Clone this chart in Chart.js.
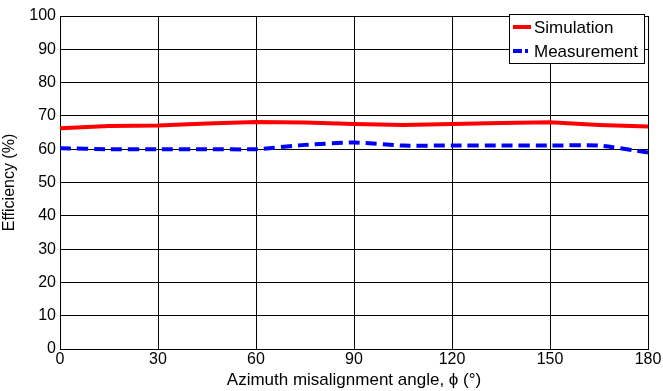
<!DOCTYPE html>
<html>
<head>
<meta charset="utf-8">
<script src="https://cdn.jsdelivr.net/npm/chart.js@4"></script>
<style>
  body { margin: 0; background: #fff; }
  #wrap { width: 663px; height: 391px; }
</style>
</head>
<body>
<div id="wrap"><canvas id="effChart" width="663" height="391"></canvas></div>
<script>
// data
const angles = [0, 15, 30, 45, 60, 75, 90, 105, 120, 135, 150, 165, 180];
const simulation = [66.3, 67.0, 67.1, 67.7, 68.2, 68.0, 67.6, 67.3, 67.6, 67.9, 68.1, 67.3, 66.8];
const measurement = [60.3, 60.0, 60.0, 60.0, 60.0, 61.3, 62.0, 61.1, 61.1, 61.1, 61.1, 61.1, 59.0];
const xTicks = [0, 30, 60, 90, 120, 150, 180];
const seriesNames = ['Simulation', 'Measurement'];

const family = 'Liberation Sans, Arial, sans-serif';
const font = { family: family, size: 16 };
const titleFont = { family: family, size: 17 };

const toPoints = vals => angles.map((a, i) => ({ x: a, y: vals[i] }));

// matlab-style legend box in the upper right corner
const boxLegend = {
  id: 'boxLegend',
  afterDraw(chart) {
    const ctx = chart.ctx;
    const area = chart.chartArea;
    const x0 = area.right - 139, y0 = area.top - 2, w = 135, h = 49;
    ctx.save();
    ctx.fillStyle = '#fff';
    ctx.fillRect(x0, y0, w, h);
    ctx.strokeStyle = '#000';
    ctx.lineWidth = 1;
    ctx.strokeRect(x0 + 0.5, y0 + 0.5, w, h);
    ctx.font = '17px ' + family;
    ctx.textBaseline = 'middle';
    ctx.fillStyle = '#000';
    chart.data.datasets.forEach((ds, i) => {
      const y = y0 + 13 + i * 24;
      ctx.strokeStyle = ds.borderColor;
      ctx.lineWidth = 4;
      ctx.setLineDash(i == 1 ? [9, 3, 3, 3] : []);
      ctx.beginPath();
      ctx.moveTo(x0 + 4, y);
      ctx.lineTo(x0 + 22, y);
      ctx.stroke();
      ctx.setLineDash([]);
      ctx.fillText(ds.label, x0 + 25, y + 1);
    });
    ctx.restore();
  }
};

new Chart(document.getElementById('effChart').getContext('2d'), {
  type: 'line',
  data: {
    datasets: [{
      label: seriesNames[0],
      data: toPoints(simulation),
      borderColor: '#ff0000',
      borderWidth: 4,
      pointRadius: 0,
      tension: 0
    }, {
      label: seriesNames[1],
      data: toPoints(measurement),
      borderColor: '#0000ff',
      borderWidth: 4,
      borderDash: [11, 6],
      pointRadius: 0,
      tension: 0.2
    }]
  },
  options: {
    responsive: false,
    animation: false,
    layout: { padding: { top: 16, right: 15, left: 0, bottom: 0 } },
    plugins: {
      legend: { display: false },
      tooltip: { enabled: false }
    },
    scales: {
      x: {
        type: 'linear',
        min: 0,
        max: 180,
        afterBuildTicks: axis => { axis.ticks = xTicks.map(v => ({ value: v })); },
        afterFit: axis => { axis.height = 42; },
        ticks: { color: '#000', font: font, padding: 1, maxRotation: 0 },
        grid: { color: '#000', lineWidth: 1, drawTicks: false },
        border: { color: '#000', width: 1 },
        title: { display: true, text: 'Azimuth misalignment angle, \u03d5 (\u00b0)', color: '#000', font: titleFont, padding: { top: 0, bottom: 0 } }
      },
      y: {
        min: 0,
        max: 100,
        afterFit: axis => { axis.width = 60; },
        ticks: { stepSize: 10, color: '#000', font: font, padding: 4 },
        grid: { color: '#000', lineWidth: 1, drawTicks: false },
        border: { color: '#000', width: 1 },
        title: { display: true, text: 'Efficiency (%)', color: '#000', font: font, padding: { top: 0, bottom: 2 } }
      }
    }
  },
  plugins: [boxLegend]
});
</script>
</body>
</html>
